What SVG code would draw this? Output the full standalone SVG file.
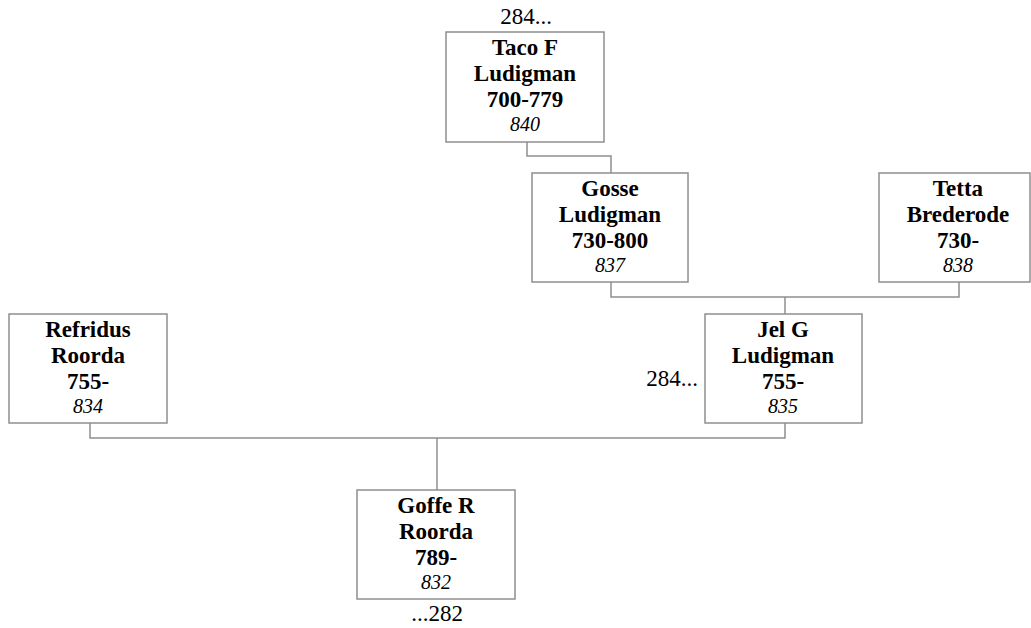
<svg xmlns="http://www.w3.org/2000/svg" width="1031" height="628" viewBox="0 0 1031 628">
<style>
.box{fill:#fff;stroke:#8f8f8f;stroke-width:1.5}
.c{fill:none;stroke:#8f8f8f;stroke-width:1.5}
text{font-family:'Liberation Serif','DejaVu Serif',serif;fill:#000}
.n{font-size:23px;font-weight:bold;text-anchor:middle}
.i{font-size:20px;font-style:italic;text-anchor:middle}
.l{font-size:23px}
</style>
<rect width="1031" height="628" fill="#fff"/>
<g id="connectors">
<polyline class="c" points="527,142 527,156 611,156 611,173"/>
<polyline class="c" points="611,282 611,297 959,297 959,282"/>
<line class="c" x1="785" y1="297" x2="785" y2="314"/>
<polyline class="c" points="90,423 90,438 785,438 785,423"/>
<line class="c" x1="437" y1="438" x2="437" y2="490"/>
</g>
<g id="taco">
<rect class="box" x="446" y="32" width="158" height="110"/>
<text class="n" x="525" y="55">Taco F</text>
<text class="n" x="525" y="81">Ludigman</text>
<text class="n" x="525" y="107">700-779</text>
<text class="i" x="525" y="131">840</text>
</g>
<g id="gosse">
<rect class="box" x="532" y="173" width="156" height="109"/>
<text class="n" x="610" y="196">Gosse</text>
<text class="n" x="610" y="222">Ludigman</text>
<text class="n" x="610" y="248">730-800</text>
<text class="i" x="610" y="272">837</text>
</g>
<g id="tetta">
<rect class="box" x="879" y="173" width="151" height="109"/>
<text class="n" x="958" y="196">Tetta</text>
<text class="n" x="958" y="222">Brederode</text>
<text class="n" x="958" y="248">730-</text>
<text class="i" x="958" y="272">838</text>
</g>
<g id="refridus">
<rect class="box" x="9" y="314" width="158" height="109"/>
<text class="n" x="88" y="337">Refridus</text>
<text class="n" x="88" y="363">Roorda</text>
<text class="n" x="88" y="389">755-</text>
<text class="i" x="88" y="413">834</text>
</g>
<g id="jel">
<rect class="box" x="705" y="314" width="157" height="109"/>
<text class="n" x="783" y="337">Jel G</text>
<text class="n" x="783" y="363">Ludigman</text>
<text class="n" x="783" y="389">755-</text>
<text class="i" x="783" y="413">835</text>
</g>
<g id="goffe">
<rect class="box" x="357" y="490" width="158" height="109"/>
<text class="n" x="436" y="513">Goffe R</text>
<text class="n" x="436" y="539">Roorda</text>
<text class="n" x="436" y="565">789-</text>
<text class="i" x="436" y="589">832</text>
</g>
<g id="labels">
<text class="l" x="526" y="24" text-anchor="middle">284...</text>
<text class="l" x="698" y="386" text-anchor="end">284...</text>
<text class="l" x="437" y="621" text-anchor="middle">...282</text>
</g>
</svg>
